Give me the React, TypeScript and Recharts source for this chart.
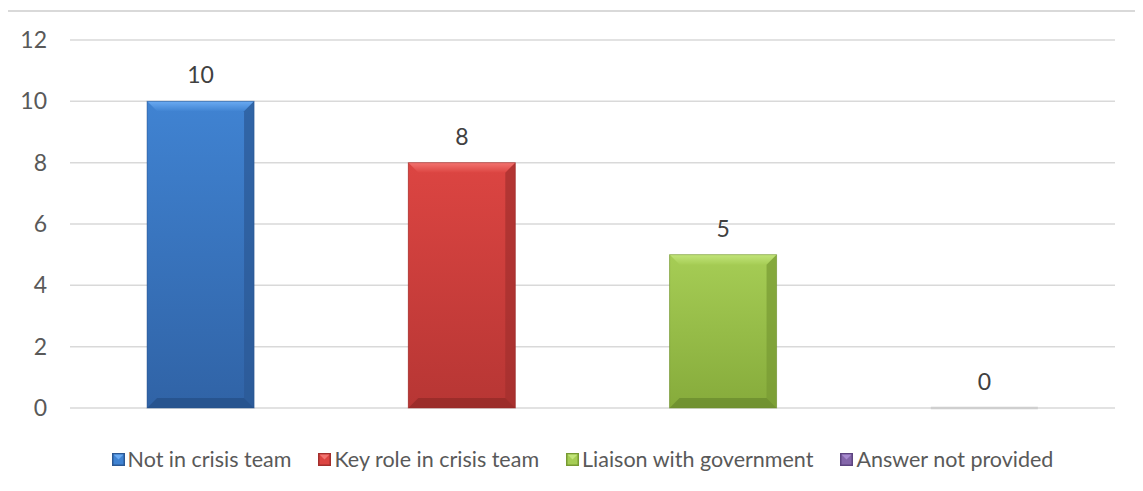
import React from 'react';
import { BarChart, Bar, XAxis, YAxis, CartesianGrid, Legend, LabelList } from 'recharts';

const categories = ['Not in crisis team', 'Key role in crisis team', 'Liaison with government', 'Answer not provided'];
const counts = [10, 8, 5, 0];
const yTicks = [0, 2, 4, 6, 8, 10, 12];

// per-category bevel palette: [top bevel, body top, body bottom, side shade, bottom shade]
const palettes = [
  ['#6aaaf2', '#4083d2', '#3063a6', '#2b5894', '#26508a'],
  ['#f37470', '#dc4542', '#b73634', '#a32f2d', '#952a28'],
  ['#c2e57a', '#a6cd55', '#86ab3b', '#779a33', '#6c8c2e'],
  ['#a88bd0', '#8466aa', '#6a4f8f', '#5d4480', '#553d75'],
];

const data = categories.map((name, i) => ({ name, value: counts[i], idx: i }));

const FONT = 'Lato, "Open Sans", sans-serif';

function BevelBar(props: any) {
  const { x, y, width, height, idx } = props;
  const p = palettes[idx];
  if (!height || height <= 0) {
    return <line x1={x} x2={x + width} y1={y} y2={y} stroke="#cfcfcf" strokeWidth={2.5} />;
  }
  const b = Math.min(10, width / 4, height / 4);
  const id = `bev-grad-${idx}`;
  const hid = `bev-top-${idx}`;
  const x2 = x + width;
  const y2 = y + height;
  return (
    <g>
      <defs>
        <linearGradient id={id} x1="0" y1="0" x2="0" y2="1">
          <stop offset="0%" stopColor={p[1]} />
          <stop offset="100%" stopColor={p[2]} />
        </linearGradient>
        <linearGradient id={hid} x1="0" y1="0" x2="0" y2="1">
          <stop offset="0%" stopColor={p[0]} />
          <stop offset="100%" stopColor={p[1]} />
        </linearGradient>
      </defs>
      <rect x={x} y={y} width={width} height={height} fill={`url(#${id})`} />
      {/* top edge */}
      <polygon points={`${x},${y} ${x2},${y} ${x2 - b},${y + b} ${x + b},${y + b}`} fill={`url(#${hid})`} />
      {/* left edge */}
      <polygon points={`${x},${y} ${x + b},${y + b} ${x + b},${y2 - b} ${x},${y2}`} fill={`url(#${id})`} opacity={0.9} />
      {/* right edge */}
      <polygon points={`${x2},${y} ${x2},${y2} ${x2 - b},${y2 - b} ${x2 - b},${y + b}`} fill={p[3]} opacity={0.7} />
      {/* bottom edge */}
      <polygon points={`${x},${y2} ${x + b},${y2 - b} ${x2 - b},${y2 - b} ${x2},${y2}`} fill={p[4]} opacity={0.8} />
      <rect x={x} y={y} width={width} height={height} fill="none" stroke={p[4]} strokeOpacity={0.5} strokeWidth={1} />
    </g>
  );
}

function Swatch({ idx }: { idx: number }) {
  const p = palettes[idx];
  return (
    <svg width={13} height={13} style={{ marginRight: 3 }}>
      <rect x={0} y={0} width={13} height={13} fill={p[3]} />
      <rect x={1.5} y={1.5} width={10} height={10} fill={p[1]} />
      <polygon points="1.5,1.5 11.5,1.5 6.5,6.5" fill={p[0]} />
    </svg>
  );
}

function renderLegend() {
  return (
    <div style={{ display: 'flex', justifyContent: 'center', alignItems: 'center', fontFamily: FONT, fontSize: 21.5, color: '#595959' }}>
      {categories.map((c, i) => (
        <div key={c} style={{ display: 'flex', alignItems: 'center', marginLeft: i ? 27 : 0 }}>
          <Swatch idx={i} />
          <span>{c}</span>
        </div>
      ))}
    </div>
  );
}

export default function App() {
  return (
    <div style={{ position: 'relative', width: 1143, height: 491, margin: -8, overflow: 'hidden', background: '#fff' }}>
      <div style={{ position: 'absolute', left: 5, top: 10, width: 1160, height: 510, border: '2px solid #d9d9d9', boxSizing: 'border-box' }} />
      <div style={{ position: 'absolute', left: 0, top: 0 }}>
        <BarChart width={1143} height={491} data={data} margin={{ top: 40, right: 28, bottom: 83, left: 0 }} barCategoryGap="29.5%">
          <CartesianGrid vertical={false} stroke="#d9d9d9" strokeWidth={1.5} />
          <XAxis dataKey="name" hide />
          <YAxis
            width={70}
            domain={[0, 12]}
            ticks={yTicks}
            axisLine={false}
            tickLine={false}
            tickSize={0}
            tickMargin={23}
            tick={{ fill: '#595959', fontSize: 23, fontFamily: FONT }}
          />
          <Legend
            layout="horizontal"
            verticalAlign="middle"
            content={renderLegend}
            wrapperStyle={{ top: 446, left: 0, width: 1165, height: 30 }}
          />
          <Bar dataKey="value" shape={BevelBar} isAnimationActive={false}>
            <LabelList dataKey="value" position="top" offset={18} fill="#404040" fontSize={23} fontFamily={FONT} />
          </Bar>
        </BarChart>
      </div>
    </div>
  );
}
